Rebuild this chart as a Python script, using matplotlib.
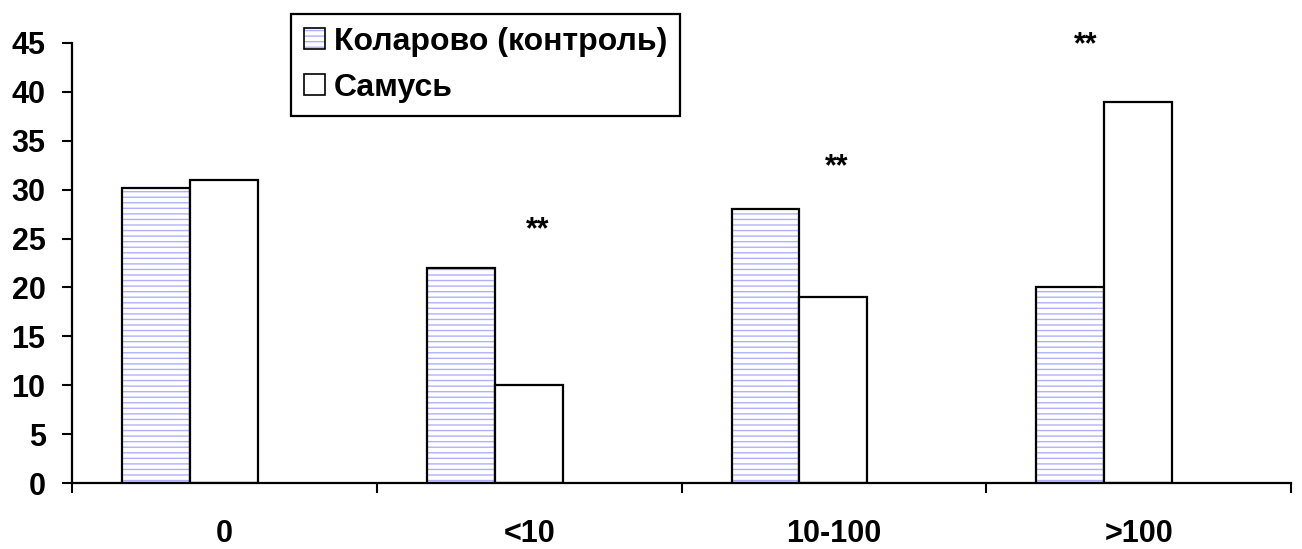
import numpy as np
import matplotlib
matplotlib.use("Agg")
import matplotlib.pyplot as plt
from matplotlib.patches import Patch
from matplotlib.legend_handler import HandlerTuple

plt.rcParams['font.family'] = ['Liberation Sans', 'DejaVu Sans']
plt.rcParams['font.weight'] = 'bold'
plt.rcParams['hatch.linewidth'] = 1.0

# data
categories = ['0', '<10', '10-100', '>100']
kolarovo = [30.2, 22, 28, 20]
samus = [31, 10, 19, 39]
series_names = ['Коларово (контроль)', 'Самусь']
# significance marks (x in category units, y in data units)
star_x = [1.528, 2.508, 3.325]
star_y = [25.8, 32.3, 44.8]
star_text = ['**', '**', '**']

hatch_blue = '#b0b0ff'

fig = plt.figure(figsize=(13.02, 5.49), dpi=100)
ax = fig.add_axes([0.0553, 0.1202, 0.9363, 0.8015])

idx = np.arange(len(categories))
offset = 0.164
width = 0.223

# hatched fill first, then the black outline on top
ax.bar(idx + offset, kolarovo, width, align='edge', color='white',
       edgecolor=hatch_blue, hatch='---', linewidth=0)
ax.bar(idx + offset, kolarovo, width, align='edge', fill=False,
       edgecolor='black', linewidth=1.6)
ax.bar(idx + offset + width, samus, width, align='edge', color='white',
       edgecolor='black', linewidth=1.6)

for x, y, t in zip(star_x, star_y, star_text):
    ax.text(x, y, t, ha='center', va='center', fontsize=22, fontweight='bold',
            clip_on=False)

ax.set_xlim(0, 4)
ax.set_ylim(0, 45)
ax.set_yticks(np.arange(0, 46, 5))
ax.set_xticks(np.arange(0, 5))
ax.set_xticklabels([])
ax.set_xticks(idx + 0.5, minor=True)
ax.set_xticklabels(categories, minor=True)

ax.tick_params(axis='both', which='major', direction='out', length=7,
               width=1.5, labelsize=22, colors='black')
ax.tick_params(axis='x', which='minor', length=0, pad=26, labelsize=22)
ax.tick_params(axis='y', pad=12)

for s in ['top', 'right']:
    ax.spines[s].set_visible(False)
for s in ['left', 'bottom']:
    ax.spines[s].set_linewidth(1.6)
    ax.spines[s].set_color('black')

# legend
h1 = (Patch(facecolor='white', edgecolor=hatch_blue, hatch='---', linewidth=0),
      Patch(fill=False, edgecolor='black', linewidth=1.2))
h2 = Patch(facecolor='white', edgecolor='black', linewidth=1.2)
leg = fig.legend([h1, h2], series_names, loc='upper left',
                 bbox_to_anchor=(0.2235, 0.9745),
                 handler_map={tuple: HandlerTuple(ndivide=1, pad=0)},
                 prop={'size': 23, 'weight': 'bold'},
                 handlelength=0.65, handleheight=0.65, handletextpad=0.3,
                 borderpad=0.4, labelspacing=0.5, borderaxespad=0,
                 fancybox=False, edgecolor='black', framealpha=1)
leg.get_frame().set_linewidth(1.6)

plt.savefig('out.png', dpi=100)
